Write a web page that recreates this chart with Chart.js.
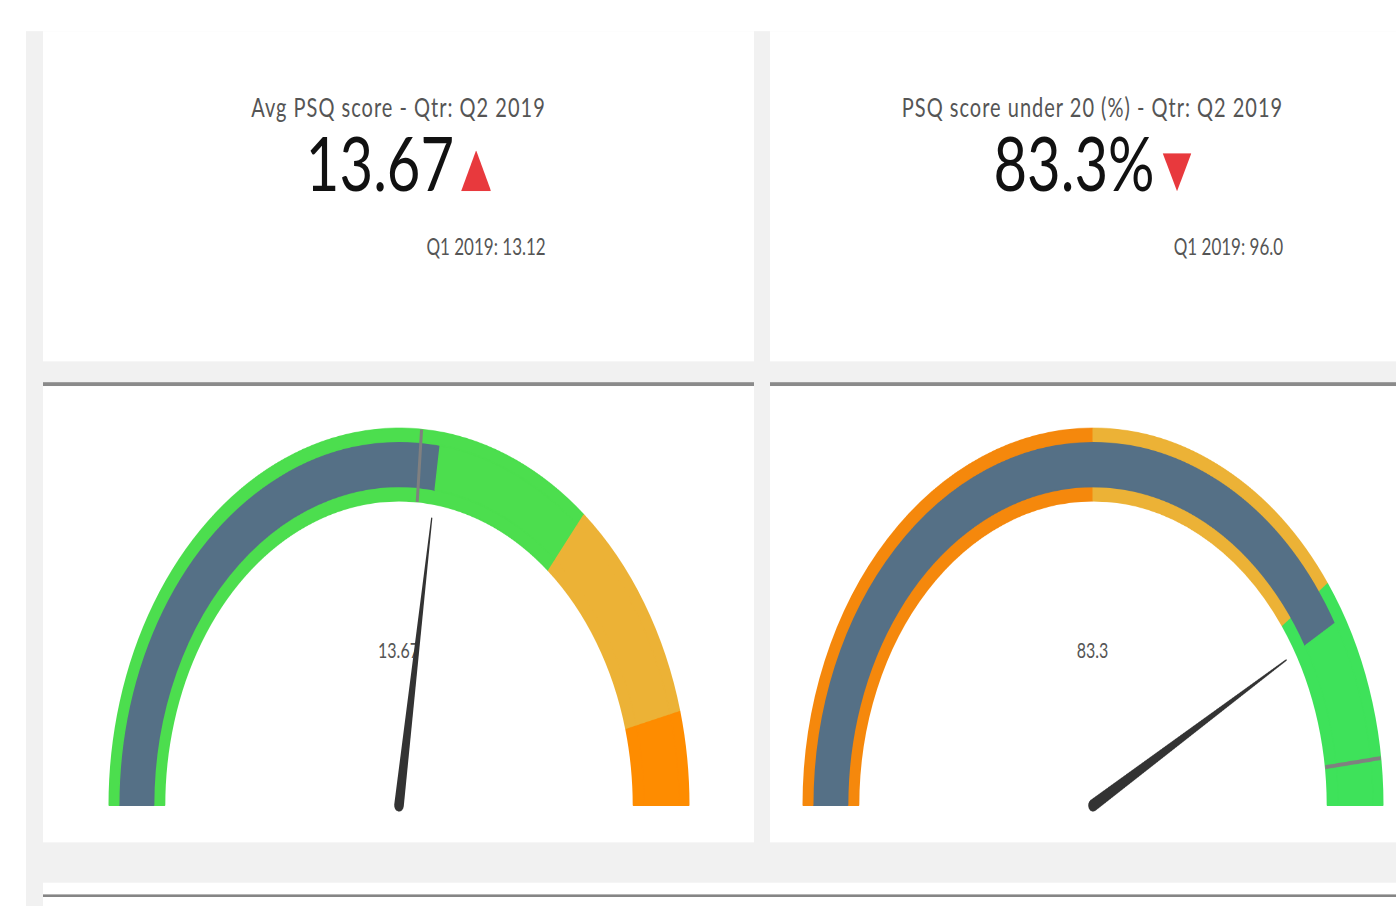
<!DOCTYPE html>
<html>
<head>
<meta charset="utf-8">
<title>PSQ gauges</title>
<script src="https://cdn.jsdelivr.net/npm/chart.js@4"></script>
<style>
  html, body { margin: 0; padding: 0; background: #fff; overflow: hidden; }
  body { width: 1396px; height: 906px; position: relative; font-family: Lato, "Open Sans", sans-serif; }
  /* the whole dashboard is drawn at 1396x697 and stretched vertically */
  #page { position: absolute; left: 0; top: 0; width: 1396px; height: 697px; transform: scaleY(1.3); transform-origin: 0 0; }
  .box { position: absolute; }
  .gray { background: #f1f1f1; }
  .white { background: #fff; }
  .rule { background: #8a8a8a; }
  .kpi { position: absolute; top: 72.3px; transform: translateX(-50%); white-space: nowrap; }
  .kpi .t { font-size: 20px; line-height: 20px; letter-spacing: 1px; color: #555; text-align: center; }
  .kpi .v { font-size: 58px; line-height: 58px; color: #111; text-align: center; margin-top: 3.8px; }
  .kpi .p { font-size: 17px; line-height: 17px; color: #555; text-align: right; margin-top: 27px; }
  .tri { display: inline-block; background: #e8393d; vertical-align: baseline; }
  .tri.up { width: 30px; height: 31.5px; margin-left: 7px; clip-path: polygon(50% 0, 100% 100%, 0 100%); }
  .tri.down { width: 29px; height: 29.5px; margin-left: 8px; clip-path: polygon(0 0, 100% 0, 50% 100%); }
  .glabel { position: absolute; top: 491.6px; transform: translateX(-50%); font-size: 16px; line-height: 16px; color: #555; }
  canvas.gauge { position: absolute; top: 329px; }
</style>
</head>
<body>
<div id="page">
  <div class="box gray" style="left:26px; top:23.85px; width:1370px; height:673px;"></div>

  <div class="box white" style="left:43px; top:23.85px; width:711px; height:254.65px;"></div>
  <div class="box white" style="left:770px; top:23.85px; width:626px; height:254.65px;"></div>

  <div class="box rule" style="left:43px; top:293.8px; width:711px; height:3.5px;"></div>
  <div class="box rule" style="left:770px; top:293.8px; width:626px; height:3.5px;"></div>

  <div class="box white" style="left:43px; top:297.3px; width:711px; height:350.6px;"></div>
  <div class="box white" style="left:770px; top:297.3px; width:626px; height:350.6px;"></div>

  <div class="box white" style="left:43px; top:678.7px; width:1353px; height:20px;"></div>
  <div class="box rule" style="left:43px; top:687.5px; width:1353px; height:2px; background:#858585;"></div>

  <div id="kpis"></div>
  <div id="gauges"></div>
</div>

<script>
// KPI cards
const kpiTitles = ['Avg PSQ score - Qtr: Q2 2019', 'PSQ score under 20 (%) - Qtr: Q2 2019'];
const currentValues = [13.67, 83.3];
const previousValues = [13.12, 96.0];
const previousLabel = 'Q1 2019';
const valueSuffix = ['', '%'];
const valueDecimals = [2, 1];

// Gauge bands: upper limit of each band, and the gauge maximum is the last limit
const bandLimits = [
    [18, 23, 25],
    [50, 80, 100]
];

// colours
const bandColors = [
    ['#4cde4e', '#ecb236', '#fe8c00'],
    ['#f5880c', '#ecb236', '#3ee25a']
];
const barColor = '#557086';
const gaugeCenters = [398.5, 1092.5];

const kpiBox = document.getElementById('kpis');
const gaugeBox = document.getElementById('gauges');

// previous-value marker and needle, drawn on top of the rings
const gaugeMarks = {
    id: 'gaugeMarks',
    afterDatasetsDraw(chart, args, opts) {
        const ctx = chart.ctx;
        const outer = chart.getDatasetMeta(0).data[0];
        const inner = chart.getDatasetMeta(2).data[0];
        const cx = outer.x, cy = outer.y;
        const angle = v => Math.PI + Math.PI * v / opts.max;

        // previous quarter marker
        let a = angle(opts.previous);
        ctx.save();
        ctx.strokeStyle = '#808080';
        ctx.lineWidth = 3;
        ctx.beginPath();
        ctx.moveTo(cx + Math.cos(a) * inner.innerRadius, cy + Math.sin(a) * inner.innerRadius);
        ctx.lineTo(cx + Math.cos(a) * outer.outerRadius, cy + Math.sin(a) * outer.outerRadius);
        ctx.stroke();
        ctx.restore();

        // needle
        a = angle(opts.value);
        const len = inner.innerRadius * 0.955;
        ctx.save();
        ctx.translate(cx, cy);
        ctx.rotate(a);
        ctx.fillStyle = '#333';
        ctx.beginPath();
        ctx.moveTo(0, -4.8);
        ctx.lineTo(len, -0.6);
        ctx.lineTo(len, 0.6);
        ctx.lineTo(0, 4.8);
        ctx.arc(0, 0, 4.8, Math.PI / 2, Math.PI * 1.5);
        ctx.closePath();
        ctx.fill();
        ctx.restore();
    }
};

kpiTitles.forEach((title, i) => {
    const cx = gaugeCenters[i];
    const up = currentValues[i] > previousValues[i];

    let kpi = document.createElement('div');
    kpi.className = 'kpi';
    kpi.style.left = cx + 'px';
    kpi.innerHTML = `
        <div class="t">${title}</div>
        <div class="v">${currentValues[i].toFixed(valueDecimals[i])}${valueSuffix[i]}<span class="tri ${up ? 'up' : 'down'}"></span></div>
        <div class="p">${previousLabel}: ${previousValues[i].toFixed(valueDecimals[i])}</div>
    `;
    kpiBox.appendChild(kpi);

    // value label in the middle of the gauge (under the needle)
    let label = document.createElement('div');
    label.className = 'glabel';
    label.style.left = cx + 'px';
    label.innerText = String(currentValues[i]);
    gaugeBox.appendChild(label);

    // extra 10px at the bottom so the round needle base is not cut off
    let canvas = document.createElement('canvas');
    canvas.className = 'gauge';
    canvas.width = 582;
    canvas.height = 301;
    canvas.style.left = (cx - 291) + 'px';
    gaugeBox.appendChild(canvas);

    // band segments
    const limits = bandLimits[i];
    const max = limits[limits.length - 1];
    let bandData = [];
    let start = 0;
    limits.forEach(lim => { bandData.push(lim - start); start = lim; });

    // middle ring: value bar, then the rest of the bands
    let midData = [currentValues[i]];
    let midColors = [barColor];
    start = 0;
    limits.forEach((lim, j) => {
        const from = Math.max(start, currentValues[i]);
        if (lim > from) {
            midData.push(lim - from);
            midColors.push(bandColors[i][j]);
        }
        start = lim;
    });

    const ring = (data, colors, weight) => ({
        data: data,
        backgroundColor: colors,
        borderColor: colors,
        borderWidth: 1,
        weight: weight
    });

    new Chart(canvas.getContext('2d'), {
        type: 'doughnut',
        data: {
            datasets: [
                ring(bandData, bandColors[i], 10),
                ring(midData, midColors, 35),
                ring(bandData, bandColors[i], 11)
            ]
        },
        options: {
            responsive: false,
            devicePixelRatio: 2,
            animation: false,
            rotation: -90,
            circumference: 180,
            cutout: '80.76%',
            layout: { padding: { bottom: 10 } },
            events: [],
            plugins: {
                legend: { display: false },
                tooltip: { enabled: false },
                gaugeMarks: { value: currentValues[i], previous: previousValues[i], max: max }
            }
        },
        plugins: [gaugeMarks]
    });
});
</script>
</body>
</html>
